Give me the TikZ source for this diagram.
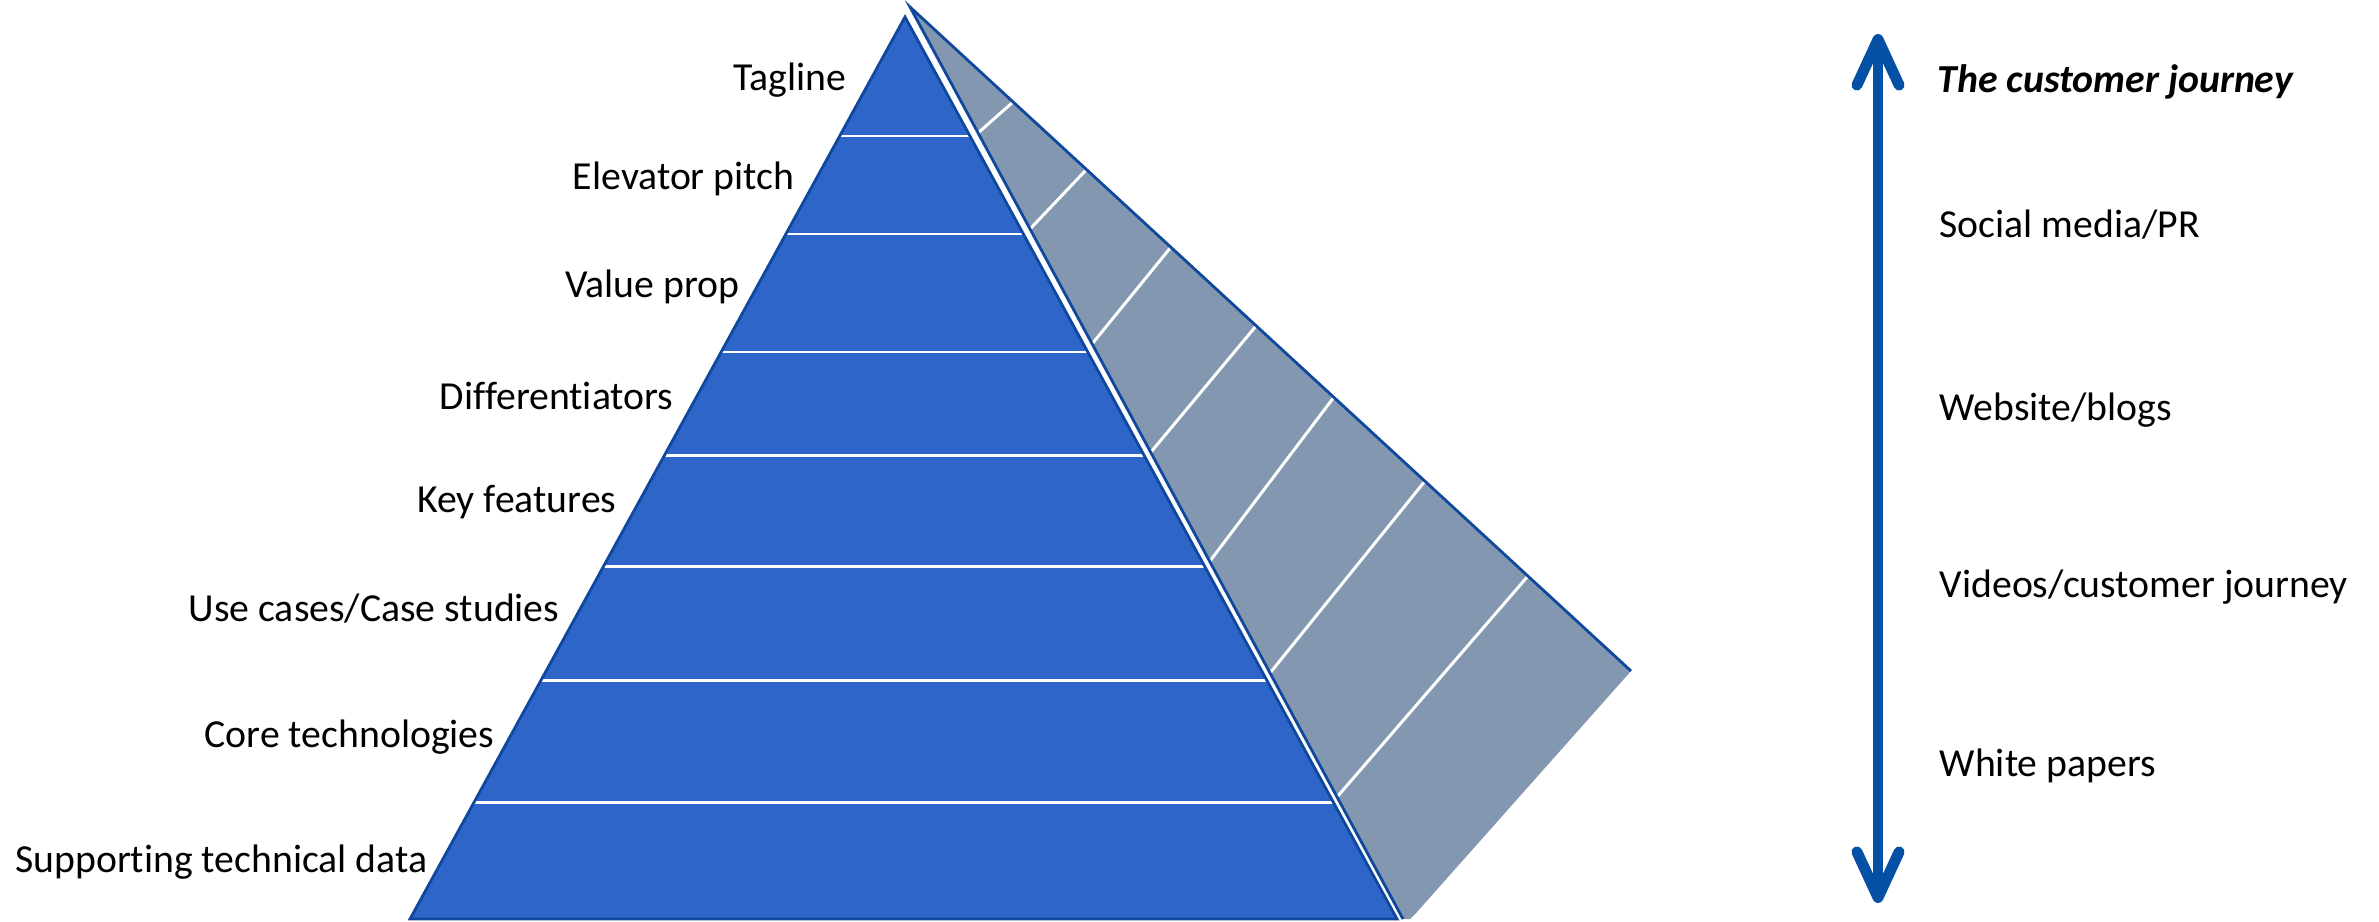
\documentclass[tikz,border=0pt]{standalone}
\usepackage{fontspec}
\setmainfont{Carlito}[Ligatures=NoCommon]
\usetikzlibrary{arrows.meta, calc}

\definecolor{pyrblue}{RGB}{46,101,200}
\definecolor{pyredge}{RGB}{16,72,158}
\definecolor{sidegray}{RGB}{132,151,176}
\definecolor{journeyblue}{RGB}{4,80,165}

\begin{document}
\begin{tikzpicture}[x=0.01cm, y=-0.01cm,
    lbl/.style={font=\fontsize{11.3}{13}\selectfont, inner sep=0pt},
    band/.style={white, line width=0.85pt},
  ]
    \useasboundingbox (0,0) rectangle (2379,921);

    % Front face of the pyramid with its layers
    \coordinate (apex) at (905,17);
    \coordinate (baseL) at (410,919);
    \coordinate (baseR) at (1397,919);
    \fill[pyrblue] (apex) -- (baseL) -- (baseR) -- cycle;
    \begin{scope}
        \clip (apex) -- (baseL) -- (baseR) -- cycle;
        \foreach \y in {136, 234, 352, 455, 566, 680, 802} {
            \draw[band] (300,\y) -- (1500,\y);
        }
    \end{scope}
    \draw[pyredge, line width=0.8pt] (apex) -- (baseL) -- (baseR) -- cycle;

    % Side face (grey) split into slanted strips
    \coordinate (sideTop) at (910,7);
    \coordinate (sideBot) at (1403,919);
    \coordinate (sideR) at (1631,671);
    \fill[sidegray] (sideTop) -- (sideBot) -- (1410,919) -- (1417,912) -- (sideR) -- cycle;
    \foreach \xa/\ya/\xb/\yb in {978/133/1013/102, 1030/229/1086/170, 1092/344/1171/247,
        1151/452/1256/326, 1210/561/1334/397, 1270/673/1425/481, 1337/797/1528/576} {
        \draw[band] (\xa,\ya) -- (\xb,\yb);
    }
    \draw[pyredge, line width=0.8pt] (sideBot) -- (sideTop) -- (sideR);

    % Layer labels
    \node[lbl, anchor=base east] (tagline) at (847,90) {Tagline};
    \node[lbl, anchor=base east] (pitch) at (795,189) {Elevator pitch};
    \node[lbl, anchor=base east] (valueprop) at (740,297) {Value prop};
    \node[lbl, anchor=base east] (diff) at (674,409) {Differentiators};
    \node[lbl, anchor=base east] (features) at (617,512) {Key features};
    \node[lbl, anchor=base east] (usecases) at (560,621) {Use cases/Case studies};
    \node[lbl, anchor=base east] (coretech) at (495,747) {Core technologies};
    \node[lbl, anchor=base east] (techdata) at (428,872) {Supporting technical data};

    % Customer journey arrow
    \coordinate (jtop) at (1878,34);
    \coordinate (jbot) at (1878,903);
    \draw[journeyblue, line width=3.1pt,
        {Straight Barb[round, length=13pt, width=12pt]}-{Straight Barb[round, length=13pt, width=12pt]}]
        (jbot) -- (jtop);

    % Journey stages
    \node[lbl, anchor=base west, font=\fontsize{11.3}{13}\selectfont\bfseries\itshape] (journey) at (1937,92) {The customer journey};
    \node[lbl, anchor=base west] (social) at (1939,237) {Social media/PR};
    \node[lbl, anchor=base west] (website) at (1939,420) {Website/blogs};
    \node[lbl, anchor=base west] (videos) at (1939,597) {Videos/customer journey};
    \node[lbl, anchor=base west] (papers) at (1939,776) {White papers};

\end{tikzpicture}
\end{document}
